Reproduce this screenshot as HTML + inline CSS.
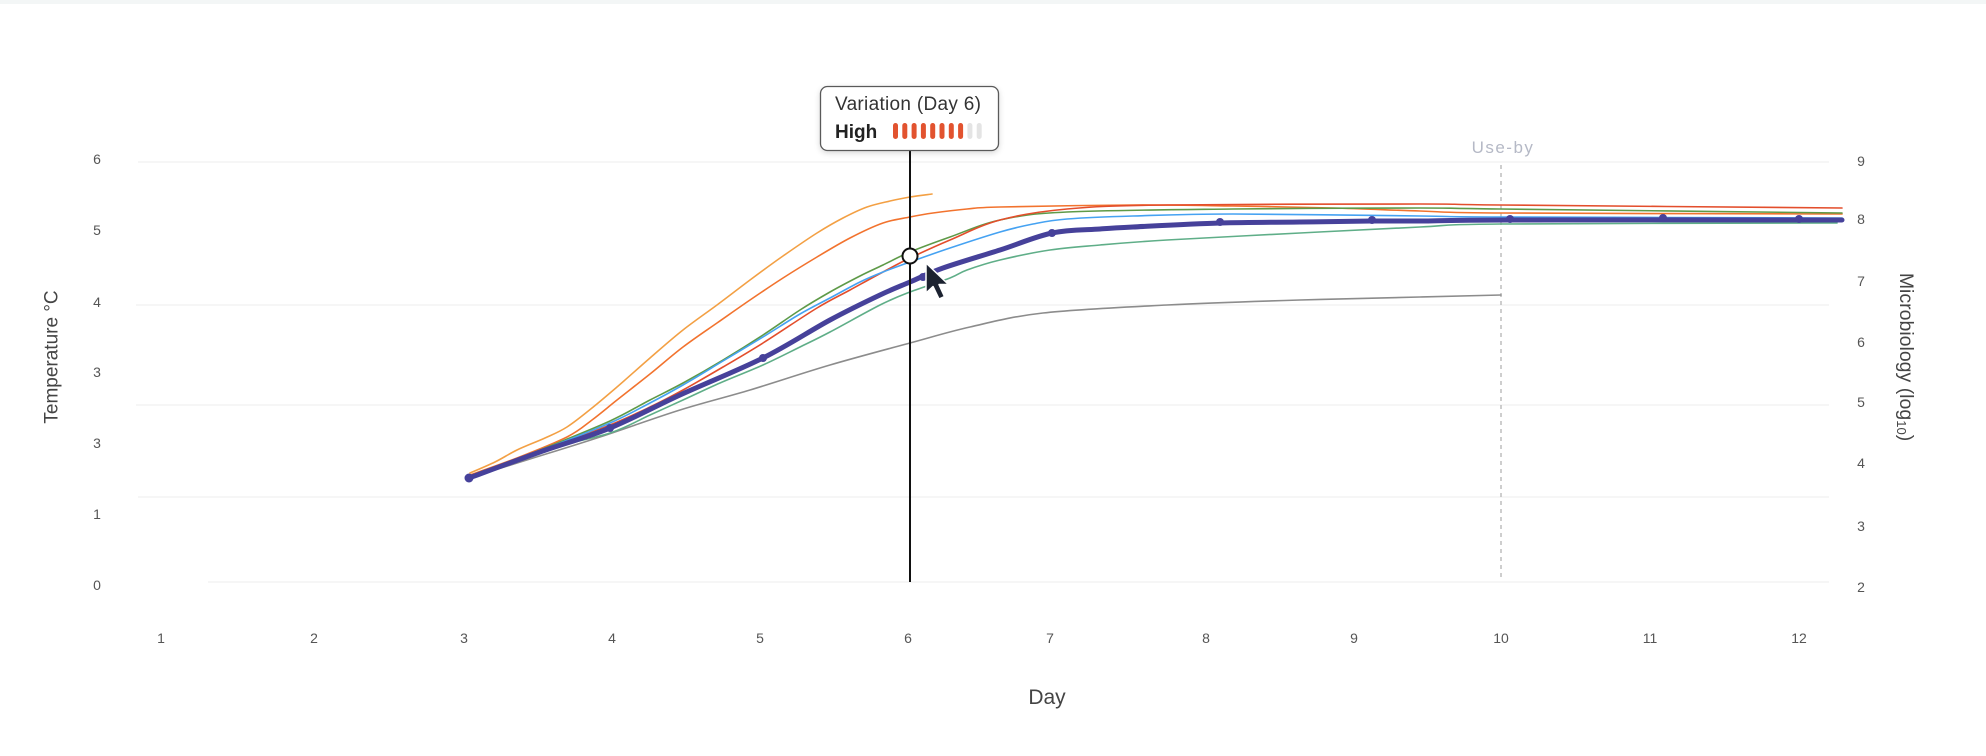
<!DOCTYPE html>
<html>
<head>
<meta charset="utf-8">
<style>
  html,body{margin:0;padding:0;background:#fff;}
  body{width:1986px;height:756px;overflow:hidden;}
  svg{display:block;}
  text{font-family:"Liberation Sans",sans-serif;}
</style>
</head>
<body>
<svg id="chart" width="1986" height="756" viewBox="0 0 1986 756" xmlns="http://www.w3.org/2000/svg">
  <defs>
    <filter id="sh" x="-20%" y="-30%" width="140%" height="170%">
      <feDropShadow dx="0" dy="2" stdDeviation="3" flood-color="#000" flood-opacity="0.15"/>
    </filter>
  </defs>
  <rect x="0" y="0" width="1986" height="756" fill="#fff"/>
  <rect x="0" y="0" width="1986" height="4" fill="#f3f6f6"/>

  <!-- gridlines -->
  <g stroke="#f0f0f0" stroke-width="1.2">
    <line x1="138" y1="162" x2="1829" y2="162"/>
    <line x1="136" y1="305" x2="1829" y2="305"/>
    <line x1="136" y1="405" x2="1829" y2="405"/>
    <line x1="138" y1="497" x2="1829" y2="497"/>
    <line x1="208" y1="582" x2="1829" y2="582"/>
  </g>

  <!-- left axis labels -->
  <g font-size="14" fill="#555" text-anchor="middle">
    <text x="97" y="164">6</text>
    <text x="97" y="235">5</text>
    <text x="97" y="307">4</text>
    <text x="97" y="377">3</text>
    <text x="97" y="448">3</text>
    <text x="97" y="519">1</text>
    <text x="97" y="590">0</text>
  </g>
  <!-- right axis labels -->
  <g font-size="14" fill="#555" text-anchor="middle">
    <text x="1861" y="166">9</text>
    <text x="1861" y="224">8</text>
    <text x="1861" y="286">7</text>
    <text x="1861" y="347">6</text>
    <text x="1861" y="407">5</text>
    <text x="1861" y="468">4</text>
    <text x="1861" y="531">3</text>
    <text x="1861" y="592">2</text>
  </g>
  <!-- x axis labels -->
  <g font-size="14" fill="#555" text-anchor="middle">
    <text x="161" y="643">1</text>
    <text x="314" y="643">2</text>
    <text x="464" y="643">3</text>
    <text x="612" y="643">4</text>
    <text x="760" y="643">5</text>
    <text x="908" y="643">6</text>
    <text x="1050" y="643">7</text>
    <text x="1206" y="643">8</text>
    <text x="1354" y="643">9</text>
    <text x="1501" y="643">10</text>
    <text x="1650" y="643">11</text>
    <text x="1799" y="643">12</text>
  </g>

  <!-- axis titles -->
  <text x="1047" y="704" font-size="21" fill="#444" text-anchor="middle">Day</text>
  <text transform="translate(52,357) rotate(-90)" font-size="19" fill="#444" text-anchor="middle" dominant-baseline="central">Temperature °C</text>
  <text transform="translate(1906,357) rotate(90)" font-size="19.5" fill="#444" text-anchor="middle" dominant-baseline="central">Microbiology (log<tspan font-size="13" dy="4">10</tspan><tspan dy="-4">)</tspan></text>

  <!-- use-by -->
  <line x1="1501" y1="165" x2="1501" y2="580" stroke="#bdbdbd" stroke-width="1.5" stroke-dasharray="4 4"/>
  <text x="1503" y="153" font-size="17" fill="#b5b9c6" text-anchor="middle" letter-spacing="1.5">Use-by</text>

  <!-- series -->
  <g id="series" fill="none" stroke-linejoin="round" stroke-linecap="round">
    <!-- gray -->
    <polyline class="s" stroke="#8c8c8c" stroke-width="1.6" points="469,478 530,459 600,437 680,410 750,390 830,365 910,343 970,327 1043,313 1167,305 1300,300 1420,297 1501,295"/>
    <!-- teal -->
    <polyline class="s" stroke="#5fae88" stroke-width="1.6" points="469,478 510,462 550,448 610,433 650,415 683,400 720,383 763,365 800,347 830,332 880,305 910,292 950,278 967,270 1000,260 1050,250 1100,245 1167,240 1300,233 1420,227 1500,224 1837,223"/>
    <!-- light orange -->
    <polyline class="s" stroke="#f3a044" stroke-width="1.6" points="470,473 495,462 517,450 545,438 567,427 592,408 617,387 650,358 683,330 717,305 750,280 783,256 817,233 843,218 867,207 890,201 910,197 932,194"/>
    <!-- dark orange -->
    <polyline class="s" stroke="#f2732e" stroke-width="1.6" points="470,475 517,458 567,437 592,420 617,400 650,374 683,347 717,323 750,300 783,278 817,257 850,238 883,223 910,217 933,213 967,209 1000,207 1133,205 1233,206 1333,208 1420,211 1500,213 1842,214"/>
    <!-- green -->
    <polyline class="s" stroke="#5e9a48" stroke-width="1.6" points="469,478 510,462 550,446 610,421 650,400 683,383 723,360 763,335 800,310 830,292 860,276 883,265 910,252 950,237 1000,220 1067,212 1233,209 1420,208 1500,209 1842,213"/>
    <!-- red -->
    <polyline class="s" stroke="#e34e2c" stroke-width="1.6" points="469,478 510,463 550,448 610,425 650,407 683,390 723,367 763,343 817,308 850,290 883,272 910,258 950,240 1000,220 1067,209 1167,205 1420,204 1500,205 1842,208"/>
    <!-- blue -->
    <polyline class="s" stroke="#45a2f2" stroke-width="1.6" points="469,478 510,462 550,447 610,423 650,403 683,385 723,361 763,337 800,314 830,298 860,282 883,272 910,262 950,248 1000,232 1033,224 1067,219 1133,216 1233,214 1420,216 1500,217 1842,218"/>
    <!-- purple thick -->
    <polyline class="s" stroke="#46419a" stroke-width="5" points="469,478 540,452 610,428 680,395 763,358 830,320 880,295 910,282 943,268 1000,250 1052,233 1100,229 1133,227 1220,223 1300,222 1372,221 1420,221 1510,220 1842,220"/>
  </g>
  <g fill="#46419a">
    <circle cx="469" cy="478" r="4.5"/>
    <circle cx="610" cy="428" r="4"/>
    <circle cx="763" cy="358" r="4"/>
    <circle cx="923" cy="277" r="4"/>
    <circle cx="1052" cy="233" r="4"/>
    <circle cx="1220" cy="222" r="4"/>
    <circle cx="1372" cy="220" r="4"/>
    <circle cx="1510" cy="219" r="4"/>
    <circle cx="1663" cy="218" r="4"/>
    <circle cx="1799" cy="219" r="4"/>
  </g>

  <!-- crosshair -->
  <line x1="910" y1="151" x2="910" y2="582" stroke="#111" stroke-width="2"/>
  <circle cx="910" cy="256" r="7.5" fill="#fff" stroke="#111" stroke-width="2"/>

  <!-- cursor -->
  <polygon points="926,263 926,293 933,286.5 939,299 944.5,296.5 939,284.5 948.5,284.5" fill="#1c2230" stroke="#fff" stroke-width="1.5" stroke-linejoin="round"/>

  <!-- tooltip -->
  <rect x="820.5" y="86.5" width="178" height="64" rx="7" fill="#fff" stroke="#5a5a5a" stroke-width="1.3" filter="url(#sh)"/>
  <text x="835" y="110" font-size="19" fill="#333" letter-spacing="0.3">Variation (Day 6)</text>
  <text x="835" y="138" font-size="19" fill="#222" font-weight="bold">High</text>
  <g>
    <rect x="893" y="123" width="5" height="16" rx="2.5" fill="#e2532f"/>
    <rect x="902.3" y="123" width="5" height="16" rx="2.5" fill="#e2532f"/>
    <rect x="911.6" y="123" width="5" height="16" rx="2.5" fill="#e2532f"/>
    <rect x="920.9" y="123" width="5" height="16" rx="2.5" fill="#e2532f"/>
    <rect x="930.2" y="123" width="5" height="16" rx="2.5" fill="#e2532f"/>
    <rect x="939.5" y="123" width="5" height="16" rx="2.5" fill="#e2532f"/>
    <rect x="948.8" y="123" width="5" height="16" rx="2.5" fill="#e2532f"/>
    <rect x="958.1" y="123" width="5" height="16" rx="2.5" fill="#e2532f"/>
    <rect x="967.4" y="123" width="5" height="16" rx="2.5" fill="#e4e4e4"/>
    <rect x="976.7" y="123" width="5" height="16" rx="2.5" fill="#e4e4e4"/>
  </g>
</svg>
<script>
(function(){
  try{
    var NS="http://www.w3.org/2000/svg";
    var pls=document.querySelectorAll("polyline.s");
    for(var k=0;k<pls.length;k++){
      var pl=pls[k];
      var raw=pl.getAttribute("points").trim().split(/\s+/);
      var p=[];
      for(var i=0;i<raw.length;i++){var a=raw[i].split(",");p.push([+a[0],+a[1]]);}
      var d="M"+p[0][0]+","+p[0][1];
      for(var i=0;i<p.length-1;i++){
        var p0=p[i>0?i-1:i],p1=p[i],p2=p[i+1],p3=p[i+2<p.length?i+2:i+1];
        var t=1/6;
        var c1x=p1[0]+(p2[0]-p0[0])*t,c1y=p1[1]+(p2[1]-p0[1])*t;
        var c2x=p2[0]-(p3[0]-p1[0])*t,c2y=p2[1]-(p3[1]-p1[1])*t;
        if(c1x>p2[0])c1x=p2[0]; if(c2x<p1[0])c2x=p1[0];
        d+=" C"+c1x.toFixed(1)+","+c1y.toFixed(1)+" "+c2x.toFixed(1)+","+c2y.toFixed(1)+" "+p2[0]+","+p2[1];
      }
      var path=document.createElementNS(NS,"path");
      path.setAttribute("d",d);
      path.setAttribute("stroke",pl.getAttribute("stroke"));
      path.setAttribute("stroke-width",pl.getAttribute("stroke-width"));
      path.setAttribute("fill","none");
      pl.parentNode.replaceChild(path,pl);
    }
  }catch(e){}
})();
</script>
</body>
</html>
